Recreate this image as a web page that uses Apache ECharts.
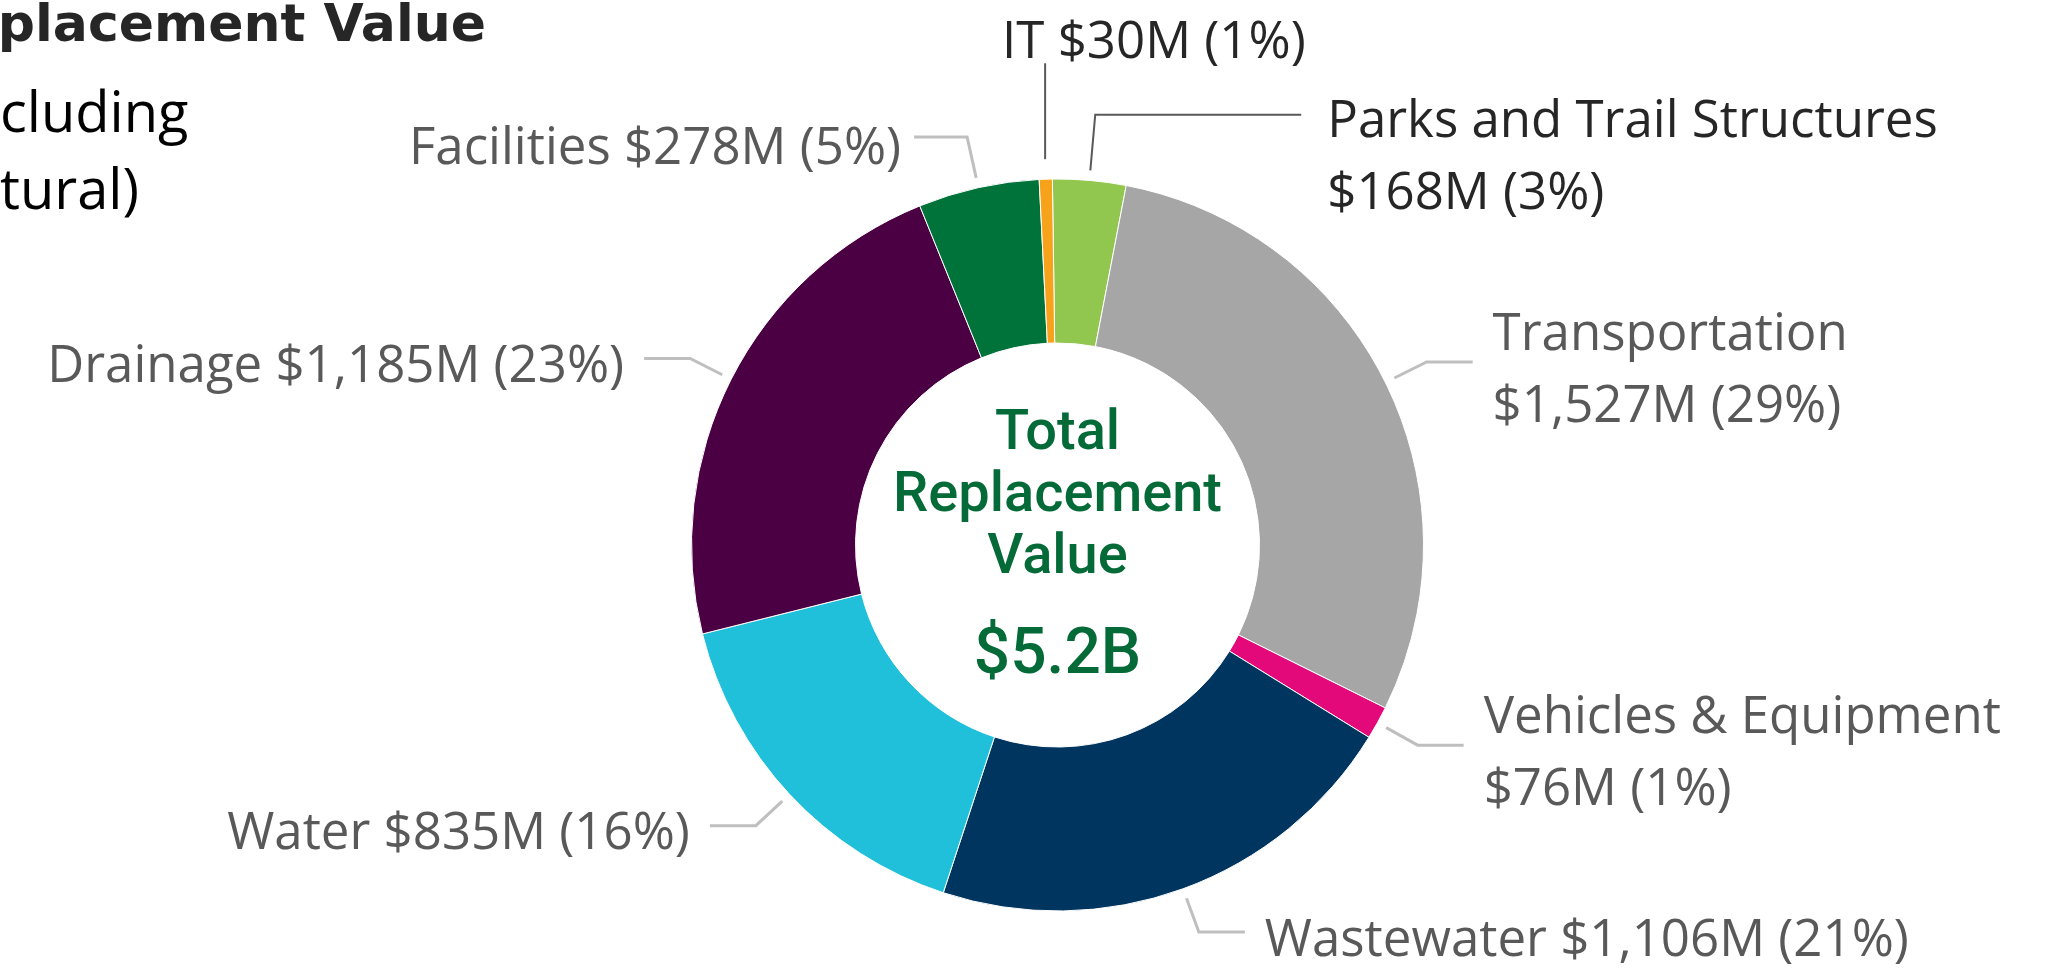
<!DOCTYPE html>
<html>
<head>
<meta charset="utf-8">
<title>Replacement Value</title>
<script src="https://cdn.jsdelivr.net/npm/echarts@6/dist/echarts.min.js"></script>
<style>
  html, body { margin: 0; padding: 0; background: #fff; }
  #chart { width: 2059px; height: 971px; }
</style>
</head>
<body>
<div id="chart"></div>
<script>
// asset classes, clockwise from 12 o'clock
var categories = ['Parks and Trail Structures', 'Transportation', 'Vehicles & Equipment', 'Wastewater', 'Water', 'Drainage', 'Facilities', 'IT'];
// replacement value in $M
var values = [168, 1527, 76, 1106, 835, 1185, 278, 30];
var totalText = '$5.2B';

var colors = ['#92c74f', '#a6a6a6', '#e4097a', '#003560', '#20c0da', '#4a0042', '#00733b', '#f7a21b'];
var twoLine = ['Parks and Trail Structures', 'Transportation', 'Vehicles & Equipment'];
var darkLabels = ['Parks and Trail Structures', 'IT'];

var CX = 1057.5, CY = 545, R0 = 202, R1 = 366;
var GAP = 10;
var LABEL_FONT = '"Segoe UI", "Open Sans", sans-serif';
var LABEL_SIZE = 51;
var LINE_H = 72;
var TEXT_DROP = 9; // text sits a little below its leader line
var DIN = 'Roboto, "DejaVu Sans", sans-serif';

var chart = echarts.init(document.getElementById('chart'));

var data = categories.map(function (name, i) {
  var dark = darkLabels.indexOf(name) >= 0;
  var item = {
    name: name,
    value: values[i],
    itemStyle: { color: colors[i] },
    label: { color: dark ? '#262626' : '#595959' },
    labelLine: { lineStyle: { color: dark ? '#595959' : '#bfbfbf', width: dark ? 2 : 3 } }
  };
  if (name === 'IT') {
    item.labelLine.length = 116;
    item.labelLine.length2 = 0;
  } else if (name === 'Parks and Trail Structures') {
    item.labelLine.length = 66;
    item.labelLine.length2 = 206;
    item.label.distanceToLabelLine = 26;
  } else if (name === 'Facilities') {
    item.labelLine.length = 52;
    item.labelLine.length2 = 53;
    item.label.distanceToLabelLine = 13;
  }
  return item;
});

chart.setOption({
  backgroundColor: '#fff',
  animation: false,
  graphic: [
    {
      type: 'text', x: 486, y: 27,
      style: { text: 'placement Value', align: 'right', verticalAlign: 'middle',
        font: 'bold 52px "DejaVu Sans", sans-serif', fill: '#262626' }
    },
    {
      type: 'text', x: 0, y: 116,
      style: { text: 'cluding', align: 'left', verticalAlign: 'middle',
        font: '56px ' + LABEL_FONT, fill: '#000' }
    },
    {
      type: 'text', x: 0, y: 193,
      style: { text: 'tural)', align: 'left', verticalAlign: 'middle',
        font: '56px ' + LABEL_FONT, fill: '#000' }
    },
    {
      type: 'text', x: CX, y: CY - 48,
      style: { text: 'Total\nReplacement\nValue', align: 'center', verticalAlign: 'middle',
        font: '500 56px ' + DIN, lineHeight: 62, fill: '#046a38' }
    },
    {
      type: 'text', x: CX, y: CY + 112,
      style: { text: totalText, align: 'center', verticalAlign: 'middle',
        font: '500 64px ' + DIN, fill: '#046a38' }
    }
  ],
  series: [{
    type: 'pie',
    center: [CX, CY],
    radius: [R0, R1],
    startAngle: 90.8,
    clockwise: true,
    avoidLabelOverlap: false,
    itemStyle: { borderColor: '#fff', borderWidth: 1 },
    label: {
      show: true,
      position: 'outside',
      fontFamily: LABEL_FONT,
      fontSize: LABEL_SIZE,
      lineHeight: LINE_H,
      distanceToLabelLine: 20,
      formatter: function (p) {
        var sep = twoLine.indexOf(p.name) >= 0 ? '\n' : ' ';
        return p.name + sep + '$' + p.value.toLocaleString('en-US') + 'M (' + Math.round(p.percent) + '%)';
      }
    },
    labelLine: { show: true, length: 46, length2: 46 },
    labelLayout: function (p) {
      var pts = p.labelLinePoints;
      if (!pts) return {};
      var name = categories[p.dataIndex];
      var gap = name === 'IT' ? 20 : GAP;
      var a = pts[0], b = pts[1];
      var dx = b[0] - a[0], dy = b[1] - a[1];
      var d = Math.sqrt(dx * dx + dy * dy) || 1;
      var start = [a[0] + dx / d * gap, a[1] + dy / d * gap];
      if (name === 'IT') {
        return {
          x: start[0] - 43, y: b[1] - 20, align: 'left', verticalAlign: 'middle',
          labelLinePoints: [start, [start[0], b[1]]]
        };
      }
      if (name === 'Parks and Trail Structures') {
        return { y: b[1] + LINE_H / 2 + 8, labelLinePoints: [start, b, pts[2]] };
      }
      return {
        dy: name === 'Facilities' ? TEXT_DROP + 4 : TEXT_DROP,
        labelLinePoints: [start, b, pts[2]]
      };
    },
    data: data
  }]
});
</script>
</body>
</html>
